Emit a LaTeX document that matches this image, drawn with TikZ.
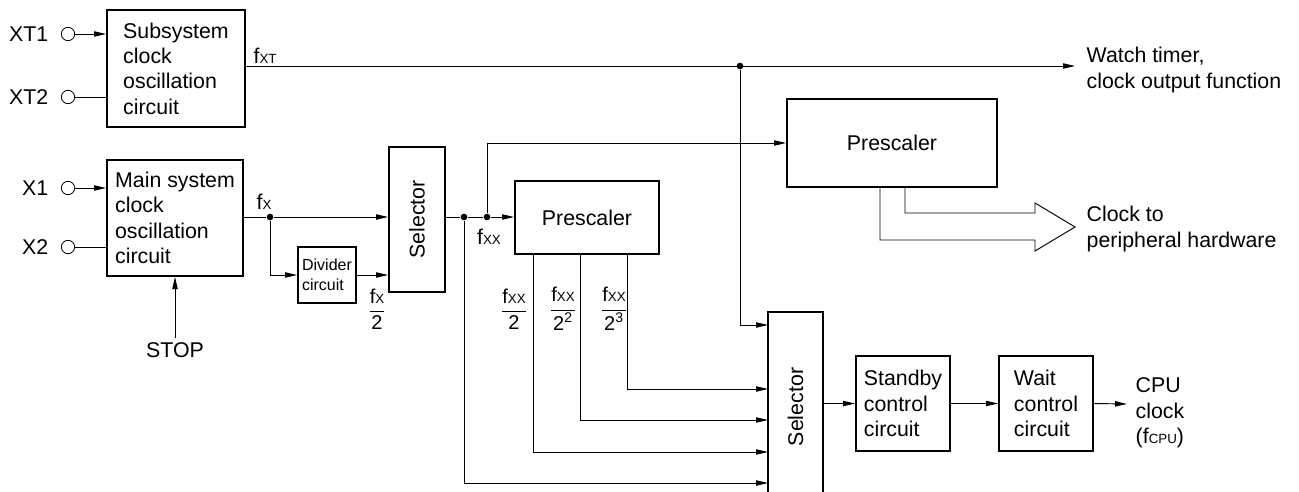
\documentclass[tikz,border=0pt]{standalone}
\usepackage{fontspec}
\usepackage{amsmath}
\setmainfont{Liberation Sans}
\usetikzlibrary{arrows.meta,positioning}
\newcommand{\subtxt}[1]{{\fontsize{10}{10}\selectfont #1}}
\begin{document}
\begin{tikzpicture}[x=0.75pt, y=-0.75pt, font=\fontsize{16}{19}\selectfont,
  box/.style={draw, line width=1.5pt, align=left, inner sep=0pt},
  pin/.style={draw, circle, minimum size=10pt, inner sep=0pt, line width=0.6pt},
  wire/.style={line width=0.7pt},
  sig/.style={wire, -{Triangle[length=9pt, width=4pt]}},
  dot/.style={circle, fill, inner sep=0pt, minimum size=5pt},
  frac/.style={font=\fontsize{15}{17}\selectfont, inner sep=1pt}]
  \useasboundingbox (0,0) rectangle (1299,492);

  % oscillators
  \node[box, minimum width=103.5pt, minimum height=87.75pt] (sub) at (176,68.5) {Subsystem\\clock\\oscillation\\circuit};
  \node[box, minimum width=102pt, minimum height=87pt] (main) at (175,218) {Main system\\clock\\oscillation\\circuit};
  \foreach \p/\y/\t in {xt1/34/XT1, xt2/97/XT2, x1/188/X1, x2/247/X2} {
    \node[pin] (\p) at (68,\y) {};
    \node[left=6pt of \p] (\p l) {\t};
  }
  \node (stop) at (175,350) {STOP};

  % dividers and selectors
  \node[box, minimum width=43.5pt, minimum height=42pt, font=\fontsize{12}{15}\selectfont] (div) at (327,275) {Divider\\circuit};
  \node[box, minimum width=42pt, minimum height=108.75pt] (sel1) at (417,219.5) {\rotatebox{90}{Selector}};
  \node[box, minimum width=108pt, minimum height=54.75pt] (pre1) at (587,217.5) {Prescaler};
  \node[box, minimum width=157.5pt, minimum height=65.25pt] (pre2) at (892,143) {Prescaler};
  \node[box, minimum width=41.25pt, minimum height=142.5pt] (sel2) at (795.5,407) {\rotatebox{90}{Selector}};
  \node[box, minimum width=70.5pt, minimum height=71.25pt] (stby) at (903,403.5) {Standby\\control\\circuit};
  \node[box, minimum width=70.5pt, minimum height=71.25pt] (wait) at (1046,403.5) {Wait\\control\\circuit};

  % junctions
  \node[dot] (jxt) at (740,66) {};
  \node[dot] (jx) at (270,217) {};
  \node[dot] (jxx1) at (464,217) {};
  \node[dot] (jxx2) at (487,217) {};
  \coordinate (wtend) at (1075,66);
  \coordinate (cpuend) at (1127,404);
  \foreach \n/\y in {1/325, 2/389, 3/420, 4/452, 5/483}
    \coordinate (in\n) at (768,\y);
  \path (pre1.south west) ++(19,0) coordinate (o1) ++(47,0) coordinate (o2) ++(47,0) coordinate (o3);
  \path (pre2.south west) ++(94,0) coordinate (p1) ++(25,0) coordinate (p2);

  % labels
  \node[anchor=base west, inner sep=1pt] (fxt) at (252,64) {f\subtxt{XT}};
  \node[anchor=base west, inner sep=1pt] (fx) at (255,209) {f\subtxt{X}};
  \node[inner sep=1pt] (fxx) at (489,237) {f\subtxt{XX}};
  \node[frac] (fx2) at (377,309) {$\dfrac{\text{f\subtxt{X}}}{\text{2}}$};
  \node[frac] (fxx1) at (514,309) {$\dfrac{\text{f\subtxt{XX}}}{\text{2}}$};
  \node[frac] (fxx2) at (563,309) {$\dfrac{\text{f\subtxt{XX}}}{\text{2}^{\text{2}}}$};
  \node[frac] (fxx3) at (614,309) {$\dfrac{\text{f\subtxt{XX}}}{\text{2}^{\text{3}}}$};
  \node[anchor=west, align=left] (wt) at (1082,70) {Watch timer,\\clock output function};
  \node[anchor=west, align=left] (per) at (1082,229) {Clock to\\peripheral hardware};
  \node[anchor=west, align=left] (cpu) at (1131,413) {CPU\\clock\\(f\subtxt{CPU})};

  % connections
  \draw[sig] (xt1) -- (sub.west |- xt1);
  \draw[wire] (xt2) -- (sub.west |- xt2);
  \draw[sig] (x1) -- (main.west |- x1);
  \draw[wire] (x2) -- (main.west |- x2);
  \draw[sig] (stop) -- (main);
  \draw[sig] (sub.east |- jxt) -- (wtend);
  \draw[sig] (jxt) |- (in1);
  \draw[wire] (main.east |- jx) -- (jx);
  \draw[sig] (jx) -- (sel1.west |- jx);
  \draw[sig] (jx) |- (div.west);
  \draw[sig] (div.east) -- (sel1.west |- div.east);
  \draw[wire] (sel1.east |- jxx1) -- (jxx1) -- (jxx2);
  \draw[sig] (jxx2) -- (pre1.west |- jxx2);
  \draw[sig] (jxx2) |- (pre2.west);
  \draw[sig] (o3) |- (in2);
  \draw[sig] (o2) |- (in3);
  \draw[sig] (o1) |- (in4);
  \draw[sig] (jxx1) |- (in5);
  \draw[sig] (sel2.east |- stby.west) -- (stby.west);
  \draw[sig] (stby) -- (wait);
  \draw[sig] (wait.east) -- (cpuend);
  % hollow arrow to peripherals
  \draw[wire] (p1) |- (1035,240) -- (1035,251) -- (1075,227) -- (1035,203) -- (1035,213) -| (p2);
\end{tikzpicture}
\end{document}
